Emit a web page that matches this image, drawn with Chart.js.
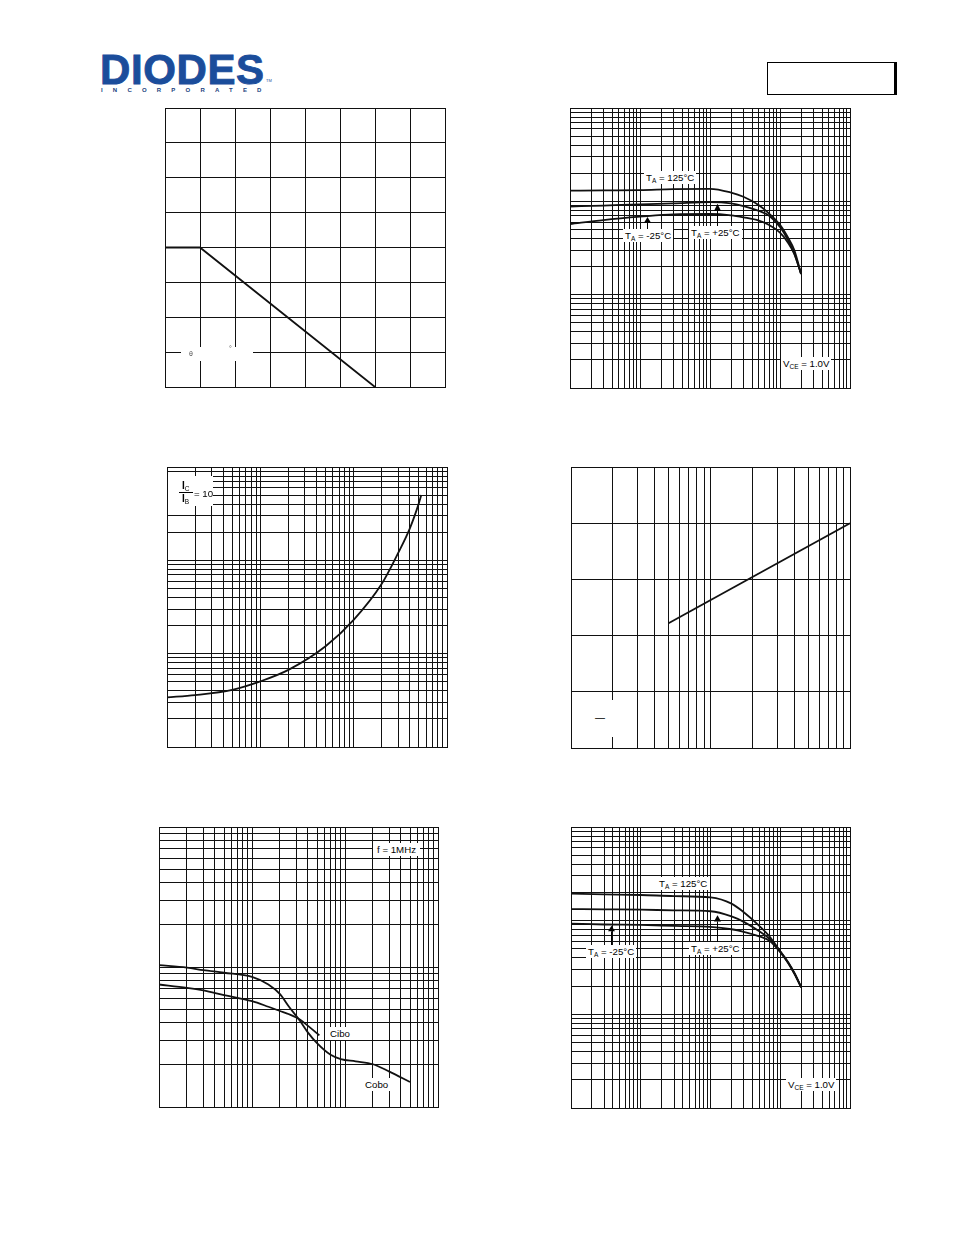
<!DOCTYPE html>
<html><head><meta charset="utf-8">
<script src="https://cdn.jsdelivr.net/npm/chart.js"></script>
<style>
html,body{margin:0;padding:0;background:#fff;}
body{width:954px;height:1235px;position:relative;overflow:hidden;font-family:"Liberation Sans",Arial,Helvetica,sans-serif;color:#000;}
canvas{position:absolute;}
.lbl{position:absolute;background:#fff;font-size:9.7px;line-height:11px;padding:1px 2px;white-space:nowrap;}
.lbl sub,.txt sub{font-size:6.5px;vertical-align:-2px;line-height:0;}
.txt{position:absolute;font-size:9.7px;line-height:11px;white-space:nowrap;}
.mask{position:absolute;background:#fff;}
</style></head><body>

<div style="position:absolute;left:100px;top:49px;font-size:42px;font-weight:bold;line-height:42px;color:#1b4d9b;letter-spacing:0.6px;-webkit-text-stroke:0.9px #1b4d9b;">DIODES</div>
<div style="position:absolute;left:266px;top:79px;font-size:4px;line-height:4px;color:#1b4d9b;">TM</div>
<div style="position:absolute;left:101px;top:87px;font-size:6px;font-weight:bold;line-height:6px;color:#1b3f80;letter-spacing:10.2px;">INCORPORATED</div>
<div style="position:absolute;left:767px;top:62px;width:130px;height:33px;box-sizing:border-box;border:1px solid #000;border-right-width:3px;"></div>

<canvas id="c1" width="282" height="281" style="left:164px;top:107px"></canvas>
<canvas id="c2" width="282" height="282" style="left:569px;top:107px"></canvas>
<canvas id="c3" width="282" height="282" style="left:166px;top:466px"></canvas>
<canvas id="c4" width="281" height="283" style="left:570px;top:466px"></canvas>
<canvas id="c5" width="281" height="282" style="left:158px;top:826px"></canvas>
<canvas id="c6" width="281" height="283" style="left:570px;top:826px"></canvas>

<!-- chart 1 label remnant -->
<div class="mask" style="left:181px;top:347px;width:72px;height:14px;"></div>
<div class="txt" style="left:189px;top:350px;font-size:7px;line-height:8px;color:#555;">θ</div>
<div class="txt" style="left:229px;top:345px;font-size:7px;line-height:8px;color:#555;">°</div>

<!-- chart 2 labels -->
<div class="lbl" style="left:644px;top:171px;">T<sub>A</sub> = 125°C</div>
<div class="lbl" style="left:623px;top:229px;">T<sub>A</sub> = -25°C</div>
<div class="lbl" style="left:689px;top:226px;">T<sub>A</sub> = +25°C</div>
<div class="lbl" style="left:781px;top:357px;">V<sub>CE</sub> = 1.0V</div>

<!-- chart 3 label -->
<div class="mask" style="left:168px;top:476px;width:45px;height:30px;"></div>
<div class="txt" style="left:182px;top:480px;font-size:10px;"><b>I</b><sub>C</sub></div>
<div style="position:absolute;left:179px;top:492px;width:14px;height:1px;background:#000;"></div>
<div class="txt" style="left:182px;top:493px;font-size:10px;"><b>I</b><sub>B</sub></div>
<div class="txt" style="left:194px;top:488px;">= 10</div>

<!-- chart 4 label remnant -->
<div class="mask" style="left:575px;top:700px;width:53px;height:37px;"></div>
<div class="txt" style="left:595px;top:712px;font-size:10px;">—</div>

<!-- chart 5 labels -->
<div class="lbl" style="left:373px;top:843px;padding:1px 4px;">f = 1MHz</div>
<div class="lbl" style="left:326px;top:1027px;padding:1px 4px;">Cibo</div>
<div class="lbl" style="left:361px;top:1078px;padding:1px 4px;">Cobo</div>

<!-- chart 6 labels -->
<div class="lbl" style="left:657px;top:877px;">T<sub>A</sub> = 125°C</div>
<div class="lbl" style="left:586px;top:945px;">T<sub>A</sub> = -25°C</div>
<div class="lbl" style="left:689px;top:942px;">T<sub>A</sub> = +25°C</div>
<div class="lbl" style="left:786px;top:1078px;">V<sub>CE</sub> = 1.0V</div>

<script>
// ---- Chart 1: power derating (linear) ----
const derateTemp = [0, 25, 150];
const deratePower = [200, 200, 0];

// ---- Chart 2: hFE vs IC (top right) ----
const hfeIc = [0.1, 0.3, 1, 3, 10, 20, 30, 50, 70, 100, 130, 160, 200];
const hfeTa125 = [130, 131, 132, 135, 136, 124, 112, 91, 74, 56, 41, 30, 16.7];
const hfeTa25 = [88, 90, 93, 95, 98, 95, 89, 79, 70, 53, 38.5, 27.7, 16.7];
const hfeTaM25 = [57, 63, 68.5, 72.6, 73.2, 70.8, 67.4, 62.1, 55.8, 46.2, 36.1, 27.3, 16.7];

// ---- Chart 3: VCE(sat) vs IC ----
const satIc = [1, 2, 5, 10, 20, 50, 100, 200, 300, 400, 500, 530];
const satVce = [0.0034, 0.0036, 0.0041, 0.00505, 0.0067, 0.012, 0.023, 0.056, 0.12, 0.22, 0.41, 0.5];

// ---- Chart 4: fT vs IC ----
const ftIc = [5, 100];
const ftValue = [111, 200];

// ---- Chart 5: capacitance vs reverse voltage ----
const coboV = [0.1, 0.2, 0.3, 0.5, 1, 1.5, 2, 2.5, 3.3, 4, 5, 7, 9, 13, 20, 30, 50];
const coboPf = [10.3, 9.9, 9.5, 9.1, 8.5, 7.5, 6.4, 5.2, 4.1, 3.4, 2.86, 2.36, 2.2, 2.12, 2.02, 1.79, 1.51];
const ciboV = [0.1, 0.2, 0.3, 0.5, 1, 1.5, 2, 2.5, 3.3, 4, 5, 5.3];
const ciboPf = [7.5, 7.1, 6.8, 6.3, 5.7, 5.2, 4.85, 4.6, 4.2, 3.8, 3.36, 3.25];

// ---- Chart 6: hFE vs IC (bottom right) ----
const hfe2Ic = [0.1, 0.3, 1, 3, 10, 20, 30, 50, 70, 100, 130, 160, 200];
const hfe2Ta125 = [194, 191, 188, 183, 177, 152, 123, 88, 68, 47, 35.3, 27.1, 19.4];
const hfe2Ta25 = [133, 132, 131, 129, 126, 111, 97, 77, 64, 47, 36, 27.6, 19.4];
const hfe2TaM25 = [93, 91, 90, 88, 86, 81, 76, 68, 61, 46, 35.3, 27.1, 19.4];

// annotation arrows (data coordinates)
const arrows2 = [{x: 1.27, tip: 68, base: 59, end: 47}, {x: 12.4, tip: 94, base: 79, end: 51}];
const arrows6 = [{x: 0.37, tip: 88, base: 77, end: 53}, {x: 12.3, tip: 114, base: 98, end: 59}];

function logGrid(min, max) {
  const v = [];
  const e0 = Math.floor(Math.log10(min)), e1 = Math.ceil(Math.log10(max));
  for (let e = e0; e <= e1; e++) {
    for (let k = 1; k < 10; k++) {
      const t = +(k * Math.pow(10, e)).toPrecision(6);
      if (t >= min * 0.9999 && t <= max * 1.0001) v.push(t);
    }
  }
  return v;
}
function axis(s) {
  const o = {
    type: s.type, min: s.min, max: s.max,
    grid: {color: '#111', lineWidth: 1, drawTicks: false},
    border: {display: true, color: '#111', width: 1},
    ticks: {display: false}
  };
  if (s.type === 'logarithmic') {
    o.afterBuildTicks = sc => { sc.ticks = logGrid(s.min, s.max).map(v => ({value: v})); };
  } else {
    o.ticks.stepSize = s.step;
  }
  return o;
}
function series(xs, ys, smooth) {
  return {
    data: xs.map((x, i) => ({x: x, y: ys[i]})),
    borderColor: '#111', borderWidth: 1.8, pointRadius: 0, fill: false,
    tension: 0, cubicInterpolationMode: smooth ? 'monotone' : 'default'
  };
}
const arrowPlugin = {
  id: 'arrows',
  afterDatasetsDraw(chart, args, opts) {
    const items = (opts && opts.items) || [];
    const ctx = chart.ctx, xs = chart.scales.x, ys = chart.scales.y;
    ctx.save();
    ctx.fillStyle = '#000'; ctx.strokeStyle = '#000'; ctx.lineWidth = 1;
    items.forEach(a => {
      const px = Math.round(xs.getPixelForValue(a.x)) + 0.5;
      const pt = ys.getPixelForValue(a.tip), pb = ys.getPixelForValue(a.base), pe = ys.getPixelForValue(a.end);
      ctx.beginPath(); ctx.moveTo(px, pt); ctx.lineTo(px - 3.5, pb); ctx.lineTo(px + 3.5, pb); ctx.closePath(); ctx.fill();
      ctx.beginPath(); ctx.moveTo(px, pb); ctx.lineTo(px, pe); ctx.stroke();
    });
    ctx.restore();
  }
};
function makeChart(id, datasets, xs, ys, arrows) {
  return new Chart(document.getElementById(id), {
    type: 'line',
    data: {datasets: datasets},
    options: {
      responsive: false, animation: false, events: [],
      layout: {padding: 1},
      plugins: {legend: {display: false}, tooltip: {enabled: false}, arrows: {items: arrows || []}},
      scales: {x: axis(xs), y: axis(ys)}
    },
    plugins: [arrowPlugin]
  });
}

makeChart('c1', [series(derateTemp, deratePower, false)],
  {type: 'linear', min: 0, max: 200, step: 25}, {type: 'linear', min: 0, max: 400, step: 50});

makeChart('c2', [series(hfeIc, hfeTa125, true), series(hfeIc, hfeTa25, true), series(hfeIc, hfeTaM25, true)],
  {type: 'logarithmic', min: 0.1, max: 1000}, {type: 'logarithmic', min: 1, max: 1000}, arrows2);

makeChart('c3', [series(satIc, satVce, true)],
  {type: 'logarithmic', min: 1, max: 1000}, {type: 'logarithmic', min: 0.001, max: 1});

makeChart('c4', [series(ftIc, ftValue, false)],
  {type: 'logarithmic', min: 1, max: 100}, {type: 'linear', min: 0, max: 250, step: 50});

makeChart('c5', [series(coboV, coboPf, true), series(ciboV, ciboPf, true)],
  {type: 'logarithmic', min: 0.1, max: 100}, {type: 'logarithmic', min: 1, max: 100});

makeChart('c6', [series(hfe2Ic, hfe2Ta125, true), series(hfe2Ic, hfe2Ta25, true), series(hfe2Ic, hfe2TaM25, true)],
  {type: 'logarithmic', min: 0.1, max: 1000}, {type: 'logarithmic', min: 1, max: 1000}, arrows6);
</script>
</body></html>
